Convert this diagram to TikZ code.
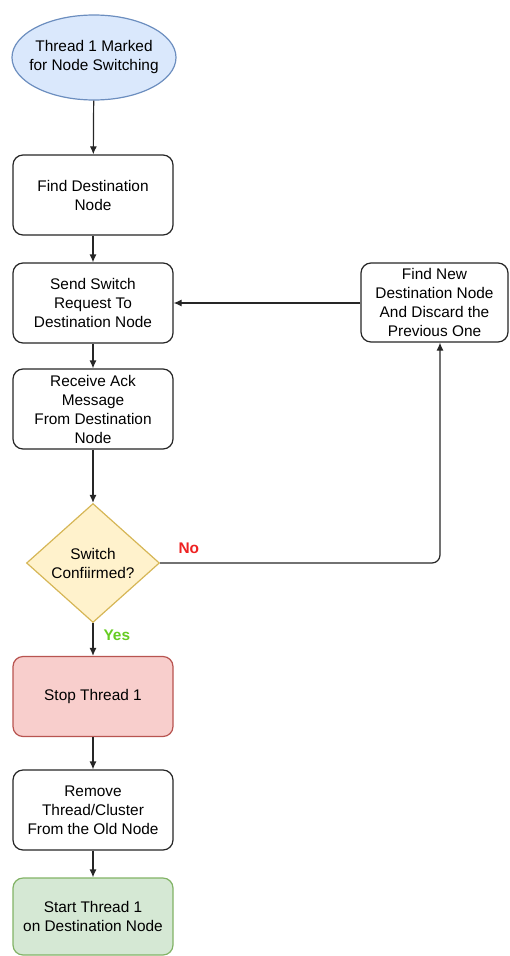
\documentclass[tikz,border=0pt]{standalone}
\usepackage{fontspec}
\setmainfont{Liberation Sans}
\usetikzlibrary{shapes.geometric,arrows.meta}

\definecolor{blueFill}{HTML}{DAE8FC}
\definecolor{blueLine}{HTML}{6C8EBF}
\definecolor{yellowFill}{HTML}{FFF2CC}
\definecolor{yellowLine}{HTML}{D6B656}
\definecolor{redFill}{HTML}{F8CECC}
\definecolor{redLine}{HTML}{B85450}
\definecolor{greenFill}{HTML}{D5E8D4}
\definecolor{greenLine}{HTML}{82B366}
\definecolor{noRed}{HTML}{EE2222}
\definecolor{yesGreen}{HTML}{66CC22}

\tikzset{
  every node/.style={font=\fontsize{15.4}{19}\selectfont, align=center},
  stepbox/.style={draw=black!85, line width=1.2pt, rounded corners=10pt, fill=white,
    minimum width=160pt, minimum height=80pt, inner sep=2pt},
  sidebox/.style={stepbox, minimum width=147pt, minimum height=79pt},
  startnode/.style={ellipse, draw=blueLine, fill=blueFill, line width=1.2pt,
    minimum width=164pt, minimum height=85pt, inner xsep=-12pt, inner ysep=0pt},
  decision/.style={diamond, draw=yellowLine, fill=yellowFill, line width=1.2pt,
    minimum width=133pt, minimum height=119pt, inner sep=0pt},
  flow/.style={draw=black!85, line width=1.2pt, -{Latex[length=8pt,width=7pt]}},
  lbl/.style={font=\fontsize{15.4}{19}\selectfont\bfseries}
}

\begin{document}
\begin{tikzpicture}[x=1pt, y=-1pt]
  \useasboundingbox (0,0) rectangle (510,956);

  \node[startnode] (mark) at (94,57.5) {Thread 1 Marked\\for Node Switching};
  \node[stepbox] (find) at (93,195) {Find Destination\\Node};
  \node[stepbox] (send) at (93,303) {Send Switch\\Request To\\Destination Node};
  \node[stepbox] (recv) at (93,409) {Receive Ack\\Message\\From Destination\\Node};
  \node[decision] (conf) at (93,563) {Switch\\Confiirmed?};
  \node[sidebox] (renew) at (434.5,302.5) {Find New\\Destination Node\\And Discard the\\Previous One};
  \node[stepbox, draw=redLine, fill=redFill] (stop) at (93,696.5) {Stop Thread 1};
  \node[stepbox] (remove) at (93,810) {Remove\\Thread/Cluster\\From the Old Node};
  \node[stepbox, draw=greenLine, fill=greenFill, minimum height=77pt] (start) at (93,916.5) {Start Thread 1\\on Destination Node};

  \coordinate (corner) at (440,563);

  \draw[flow] (mark) -- (find);
  \draw[flow] (find) -- (send);
  \draw[flow] (send) -- (recv);
  \draw[flow] (recv) -- (conf);
  \draw[flow, rounded corners=8pt] (conf.east) -- (corner) -- (corner |- renew.south);
  \draw[flow] (renew.west |- send.east) -- (send.east);
  \draw[flow] (conf) -- (stop);
  \draw[flow] (stop) -- (remove);
  \draw[flow] (remove) -- (start);

  \node[lbl, text=noRed, anchor=west] (nolabel) at (175,548) {No};
  \node[lbl, text=yesGreen, anchor=west] (yeslabel) at (100,635) {Yes};
\end{tikzpicture}
\end{document}
